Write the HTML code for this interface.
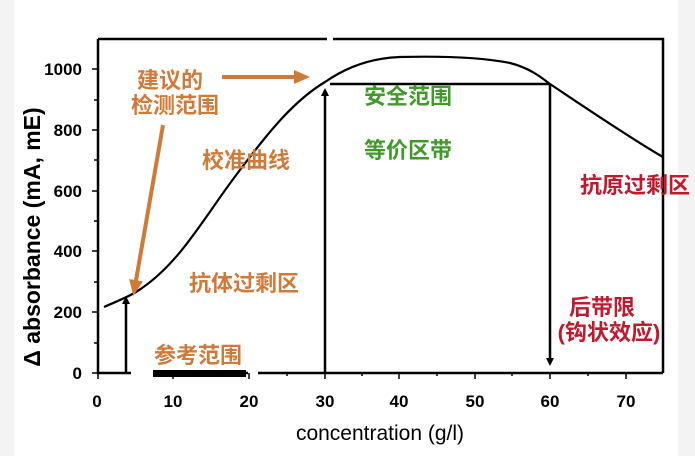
<!DOCTYPE html>
<html><head><meta charset="utf-8"><style>
html,body{margin:0;padding:0;background:#f3f3f3;}
svg{display:block;}
</style></head><body>
<svg width="695" height="456" viewBox="0 0 695 456" xmlns="http://www.w3.org/2000/svg" font-family="Liberation Sans, Noto Sans CJK SC, sans-serif">
<rect x="14" y="0" width="664" height="456" fill="#ffffff"/>
<defs>
<marker id="ah" markerWidth="8" markerHeight="8" refX="4" refY="4" orient="auto" markerUnits="userSpaceOnUse"><path d="M0,0 L8,4 L0,8 z" fill="#000"/></marker>
<marker id="oh" markerWidth="16" markerHeight="14" refX="12" refY="7" orient="auto" markerUnits="userSpaceOnUse"><path d="M0,0 L16,7 L0,14 z" fill="#d07a3a"/></marker>
</defs>
<g stroke="#000" stroke-width="2.5" fill="none">
<path d="M98,39 L327,39 M333,39 L663,39 L663,373"/>
<path d="M98,39 L98,373 L131,373 M155,373 L248,373 M258,373 L663,373"/>
</g>
<g stroke="#000" stroke-width="1.5">
<path d="M92,69 H98 M92,130 H98 M92,191 H98 M92,251 H98 M92,312 H98 M92,373 H98 M94,100 H98 M94,160 H98 M94,221 H98 M94,282 H98 M94,343 H98"/>
<path d="M98,373 V379 M173,373 V379 M249,373 V379 M325,373 V379 M399,373 V379 M475,373 V379 M550,373 V379 M626,373 V379 M287,373 V376 M362,373 V376 M437,373 V376 M512,373 V376 M588,373 V376"/>
</g>
<rect x="153" y="370" width="93" height="7" fill="#000"/>
<path d="M104,307 C115,302 126,298 136,292 C180,265 205,215 240,170 C270,130 295,100 325,82 C345,68 370,58 400,57 C440,56 480,57 510,63 C530,68 542,78 550,84 C580,104 630,138 663,157" fill="none" stroke="#000" stroke-width="2.2"/>
<g stroke="#000" stroke-width="2.5" fill="none">
<line x1="126" y1="373" x2="126" y2="300" marker-end="url(#ah)"/>
<line x1="325" y1="373" x2="325" y2="92" marker-end="url(#ah)"/>
<line x1="330" y1="84" x2="550" y2="84"/>
<line x1="550" y1="84" x2="550" y2="362" marker-end="url(#ah)"/>
</g>
<g stroke="#d07a3a" stroke-width="4" fill="none">
<line x1="222" y1="77" x2="306" y2="77" marker-end="url(#oh)"/>
<line x1="163" y1="125" x2="134" y2="292" marker-end="url(#oh)"/>
</g>
<g font-size="17" font-weight="bold" fill="#000" text-anchor="end">
<text x="82" y="75">1000</text><text x="82" y="136">800</text><text x="82" y="197">600</text><text x="82" y="257">400</text><text x="82" y="318">200</text><text x="82" y="379">0</text>
</g>
<g font-size="17" font-weight="bold" fill="#000" text-anchor="middle">
<text x="97" y="407">0</text><text x="173" y="407">10</text><text x="249" y="407">20</text><text x="325" y="407">30</text><text x="399" y="407">40</text><text x="475" y="407">50</text><text x="550" y="407">60</text><text x="626" y="407">70</text>
</g>
<text x="380" y="440" font-size="21" text-anchor="middle" fill="#000">concentration (g/l)</text>
<text transform="translate(40,237) rotate(-90)" font-size="23" font-weight="bold" text-anchor="middle" fill="#000">Δ absorbance (mA, mE)</text>
<g font-size="22" font-weight="bold" fill="#d07a3a" text-anchor="middle">
<text x="170" y="88">建议的</text><text x="175" y="113">检测范围</text>
<text x="246" y="168">校准曲线</text>
<text x="244" y="291">抗体过剩区</text>
<text x="198" y="363">参考范围</text>
</g>
<g font-size="22" font-weight="bold" fill="#3f9a2a" text-anchor="middle">
<text x="408" y="104">安全范围</text><text x="408" y="158">等价区带</text>
</g>
<g font-size="22" font-weight="bold" fill="#c0182c" text-anchor="middle">
<text x="635" y="193">抗原过剩区</text>
<text x="602" y="315">后带限</text>
<text x="609" y="340">(钩状效应)</text>
</g>
</svg>
</body></html>
